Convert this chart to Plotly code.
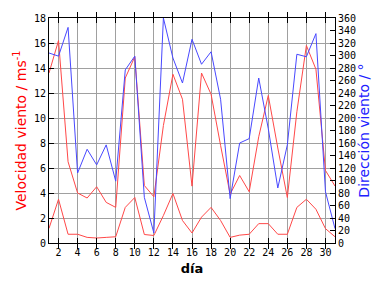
import plotly.graph_objects as go

dias = list(range(1, 32))
vel_max = [13.6, 16.2, 6.5, 4.0, 3.6, 4.5, 3.25, 2.85, 13.2, 14.9, 4.6, 3.7, 9.4, 13.5, 11.5, 4.55,
           13.6, 11.9, 7.8, 3.9, 5.4, 4.1, 8.5, 11.8, 7.6, 3.64, 10.5, 15.8, 13.9, 5.8, 4.56]
vel_media = [1.17, 3.5, 0.7, 0.7, 0.45, 0.4, 0.45, 0.5, 2.85, 3.64, 0.68, 0.6, 2.2, 3.96, 1.8, 0.8,
             2.07, 2.85, 1.8, 0.45, 0.63, 0.7, 1.55, 1.55, 0.7, 0.7, 2.85, 3.5, 2.7, 1.15, 0.5]
direccion = [304, 299, 345, 112, 150, 125, 157, 99, 277, 299, 73, 16, 360, 296, 256, 326,
             286, 306, 230, 71, 160, 167, 264, 183, 88, 157, 302, 298, 335, 82, 23]

RED = "#ff4848"
BLUE = "#4848ff"
FONT = "DejaVu Sans Mono"

fig = go.Figure()
fig.add_trace(go.Scatter(x=dias, y=vel_max, mode="lines", line=dict(color=RED, width=1), showlegend=False))
fig.add_trace(go.Scatter(x=dias, y=vel_media, mode="lines", line=dict(color=RED, width=1), showlegend=False))
fig.add_trace(go.Scatter(x=dias, y=direccion, mode="lines", line=dict(color=BLUE, width=1),
                         yaxis="y2", showlegend=False))

fig.update_layout(
    width=384, height=288,
    margin=dict(l=49, r=49, t=14, b=45),
    paper_bgcolor="white", plot_bgcolor="white",
    font=dict(family=FONT, size=10, color="black"),
    xaxis=dict(range=[1, 31], tick0=2, dtick=2, ticks="inside", ticklen=5, tickcolor="black",
               showline=True, linecolor="black", linewidth=1, mirror="allticks",
               showgrid=True, gridcolor="#a0a0a0", gridwidth=1, zeroline=False,
               title=dict(text="<b>día</b>", font=dict(family="DejaVu Sans", size=13, color="black"),
                          standoff=6)),
    yaxis=dict(range=[0, 18], dtick=2, ticks="inside", ticklen=5, tickcolor="black",
               showline=True, linecolor="black", linewidth=1, mirror=True,
               showgrid=True, gridcolor="#a0a0a0", gridwidth=1, zeroline=False,
               title=dict(text="Velocidad viento / ms<sup>-1</sup>",
                          font=dict(family="DejaVu Sans", size=14, color="red"), standoff=4)),
    yaxis2=dict(range=[0, 360], dtick=20, overlaying="y", side="right", ticks="inside", ticklen=5,
                tickcolor="black", showline=True, linecolor="black", showgrid=False, zeroline=False,
                title=dict(text="Dirección viento / °",
                           font=dict(family="DejaVu Sans", size=14, color="#2020ff"), standoff=2)),
)

fig.write_html("out.html")
